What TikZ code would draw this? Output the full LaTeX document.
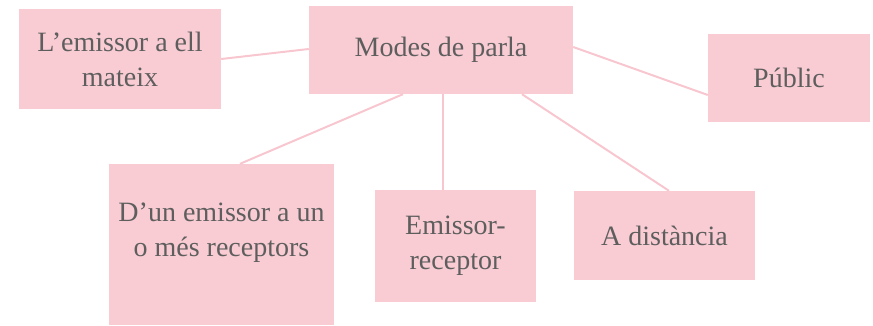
\documentclass[tikz,border=0pt]{standalone}
\usepackage{fontspec}
\setmainfont{Liberation Serif}
\definecolor{boxfill}{HTML}{F9CCD3}
\definecolor{linkcol}{HTML}{F8C6CF}
\definecolor{txtcol}{HTML}{5E5E5E}
\tikzset{
  box/.style={rectangle, fill=boxfill, draw=none, inner sep=0pt, align=center,
    text=txtcol, font=\fontsize{28}{35}\selectfont},
  link/.style={draw=linkcol, line width=2pt},
}
\begin{document}
\begin{tikzpicture}[x=1pt,y=-1pt]
\useasboundingbox (0,0) rectangle (873,326);
\node[box, minimum width=202pt, minimum height=100pt] (self) at (120,59) {L’emissor a ell\\mateix};
\node[box, minimum width=264pt, minimum height=88pt] (modes) at (441,50) {Modes de parla};
\node[box, minimum width=162pt, minimum height=88pt] (pub) at (789,78) {Públic};
\node[box, minimum width=225pt, minimum height=161pt] (dun) at (221.5,244.5) {};
\node[box, fill=none] (dunt) at ([yshift=12pt]dun.center) {D’un emissor a un\\o més receptors};
\node[box, minimum width=161pt, minimum height=112pt] (er) at (455.5,246) {Emissor-\\receptor};
\node[box, minimum width=181pt, minimum height=89pt] (dist) at (664.5,235.5) {A distància};
\draw[link] (self.east) -- (modes.west |- 0,49);
\draw[link] (modes.east |- 0,47) -- (pub.west |- 0,95);
\draw[link] (modes.south -| 403,0) -- (dun.north -| 240,0);
\draw[link] (modes.south -| 443,0) -- (er.north -| 443,0);
\draw[link] (modes.south -| 522,0) -- (dist.north -| 669,0);
\end{tikzpicture}
\end{document}
